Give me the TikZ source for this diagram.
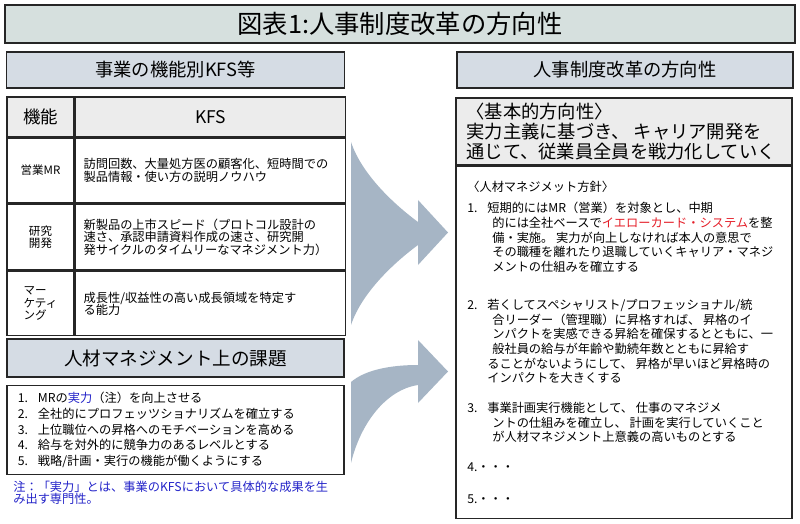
\documentclass[tikz,border=0pt]{standalone}
\usepackage{fontspec}
\newfontfamily\jp{Noto Sans CJK JP}
\usepackage{xcolor}
\usepackage{tikz}
\usetikzlibrary{positioning}
\definecolor{cTitle}{RGB}{214,224,222}
\definecolor{cBar}{RGB}{213,220,228}
\definecolor{cHead}{RGB}{236,236,236}
\definecolor{cArrow}{RGB}{166,181,197}
\definecolor{cBlue}{RGB}{35,35,200}
\definecolor{cRed}{RGB}{228,30,40}
\newcommand{\nr}[1]{\makebox[0.5cm][l]{#1}}
\newcommand{\ind}{\hspace*{0.625cm}}

\begin{document}
\begin{tikzpicture}[x=0.025cm,y=-0.025cm,font=\jp]
\tikzset{
 box/.style={draw=black!85,line width=1.1pt,inner sep=0pt},
 bar/.style={box,fill=cBar,minimum height=0.9cm,font=\jp\fontsize{13}{15}\selectfont},
 hcell/.style={box,fill=cHead,minimum height=1cm,font=\jp\fontsize{12.4}{14}\selectfont},
 lcell/.style={box,fill=white,minimum width=1.675cm,align=left,font=\jp\fontsize{8.2}{8.8}\selectfont},
 kcell/.style={box,fill=white,minimum width=6.75cm,text width=6.35cm,inner xsep=0.2cm,align=left,font=\jp\fontsize{8.7}{8.9}\selectfont},
 txt/.style={inner sep=0pt,align=left,anchor=north west,font=\jp\fontsize{8.7}{10.4}\selectfont},
 flow/.style={fill=cArrow}
}
\useasboundingbox (0,0) rectangle (800,524);

\node[box,fill=cTitle,minimum width=19.75cm,minimum height=0.95cm,font=\jp\fontsize{18}{20}\selectfont] (title) at (400,24) {図表1:人事制度改革の方向性};

% left side
\node[bar,minimum width=8.45cm] (kfsbar) at (175.5,70) {事業の機能別KFS等};

\node[hcell,minimum width=1.675cm] (fnhd) at (40.5,117) {機能};
\node[hcell,minimum width=6.75cm,right=0pt of fnhd] (kfshd) {KFS};
\node[lcell,minimum height=1.6cm,below=0pt of fnhd] (sales) {営業MR};
\node[kcell,minimum height=1.6cm,below=0pt of kfshd] (salesk) {訪問回数、大量処方医の顧客化、短時間での\\製品情報・使い方の説明ノウハウ};
\node[lcell,minimum height=1.65cm,below=0pt of sales] (rnd) {研究\\開発};
\node[kcell,minimum height=1.65cm,below=0pt of salesk] (rndk) {新製品の上市スピード（プロトコル設計の\\速さ、承認申請資料作成の速さ、研究開\\発サイクルのタイムリーなマネジメント力）};
\node[lcell,minimum height=1.6cm,below=0pt of rnd] (mkt) {マー\\ケティ\\ング};
\node[kcell,minimum height=1.6cm,below=0pt of rndk] (mktk) {成長性/収益性の高い成長領域を特定す\\る能力};

\node[bar,minimum width=8.425cm,minimum height=0.95cm,font=\jp\fontsize{13.2}{15}\selectfont] (issuebar) at (175.5,358) {人材マネジメント上の課題};
\node[box,minimum width=8.425cm,minimum height=2.225cm,text width=7.875cm,inner xsep=0.275cm,align=left,font=\jp\fontsize{8.7}{11.2}\selectfont,below=0.175cm of issuebar] (issues) {%
\nr{1.}MRの\textcolor{cBlue}{実力}（注）を向上させる\\
\nr{2.}全社的にプロフェッツショナリズムを確立する\\
\nr{3.}上位職位への昇格へのモチベーションを高める\\
\nr{4.}給与を対外的に競争力のあるレベルとする\\
\nr{5.}戦略/計画・実行の機能が働くようにする};
\node[txt,text=cBlue,font=\jp\fontsize{8.7}{8.7}\selectfont] (note) at (13,481) {注：「実力」とは、事業のKFSにおいて具体的な成果を生\\み出す専門性。};

% arrows
\fill[flow] (351,142) .. controls (362,175) and (395,205) .. (418,222) -- (418,200) -- (448,232.5) -- (418,265) -- (418,245) .. controls (395,262) and (362,292) .. (351,325) -- cycle;
\fill[flow] (351,382) .. controls (365,370) and (390,365) .. (418,365) -- (418,340) -- (448,371.5) -- (418,403) -- (418,385) .. controls (385,390) and (360,425) .. (351,463) -- cycle;

% right side
\node[bar,minimum width=8.4cm] (hrbar) at (625,70) {人事制度改革の方向性};
\node[box,fill=cHead,minimum width=8.4cm,minimum height=1.675cm] (dirbox) at (624,131.5) {};
\node[txt,anchor=west,font=\jp\fontsize{13}{14.2}\selectfont] (dir) at ([xshift=0.275cm]dirbox.west) {〈基本的方向性〉\\実力主義に基づき、\ キャリア開発を\\通じて、従業員全員を戦力化していく};
\node[box,minimum width=8.4cm,minimum height=8.8cm,below=0pt of dirbox] (policy) {};

\node[txt] (pol0) at (467,181) {〈人材マネジメット方針〉};
\node[txt] (pol1) at (467,202) {\nr{1.}短期的にはMR（営業）を対象とし、中期\\
\ind 的には全社ベースで\textcolor{cRed}{イエローカード・システム}を整\\
\ind 備・実施。\ 実力が向上しなければ本人の意思で\\
\ind その職種を離れたり退職していくキャリア・マネジ\\
\ind メントの仕組みを確立する};
\node[txt] (pol2) at (467,299) {\nr{2.}若くしてスペシャリスト/プロフェッショナル/統\\
\ind 合リーダー（管理職）に昇格すれば、\ 昇格のイ\\
\ind ンパクトを実感できる昇給を確保するとともに、一\\
\ind 般社員の給与が年齢や勤続年数とともに昇給す\\
\hspace*{0.5cm}ることがないようにして、\ 昇格が早いほど昇格時の\\
\hspace*{0.5cm}インパクトを大きくする};
\node[txt] (pol3) at (467,402) {\nr{3.}事業計画実行機能として、\ 仕事のマネジメ\\
\ind ントの仕組みを確立し、\ 計画を実行していくこと\\
\ind が人材マネジメント上意義の高いものとする};
\node[txt] (pol4) at (467,462) {4.・・・};
\node[txt] (pol5) at (467,494) {5.・・・};
\end{tikzpicture}
\end{document}
